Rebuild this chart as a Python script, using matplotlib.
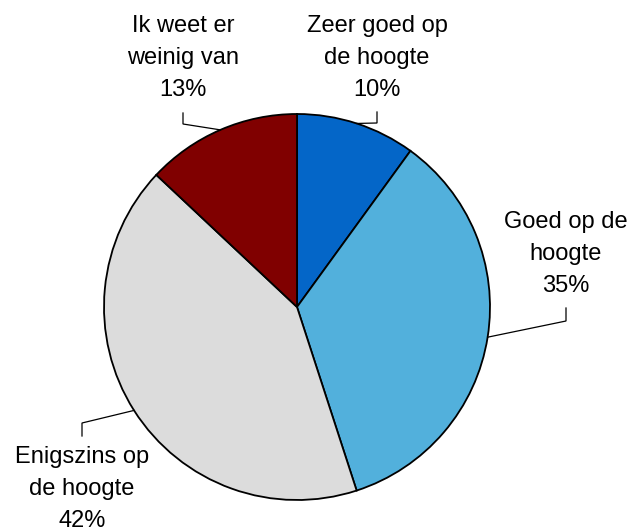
import numpy as np
import matplotlib
matplotlib.use("Agg")
import matplotlib.pyplot as plt

categories = ["Zeer goed op\nde hoogte", "Goed op de\nhoogte", "Enigszins op\nde hoogte", "Ik weet er\nweinig van"]
values = [10, 35, 42, 13]
colors = ["#0466C8", "#52B0DC", "#DCDCDC", "#800000"]

W, H = 630, 530
fig = plt.figure(figsize=(W / 100, H / 100), dpi=100)
ax = fig.add_axes([0, 0, 1, 1])
ax.set_xlim(0, W)
ax.set_ylim(0, H)
ax.set_aspect("equal")
ax.axis("off")

def py(y):
    return H - y

cx, cy, R = 297, py(307), 193
wedges, _ = ax.pie(values, colors=colors, startangle=90, counterclock=False,
                   center=(cx, cy), radius=R,
                   wedgeprops=dict(edgecolor="black", linewidth=1.3))
ax.set_xlim(0, W)
ax.set_ylim(0, H)

# label layout: elbow point, end of vertical tick, text center
layout = [
    dict(ex=377, ey=123, ty=112, tx=377, tc=58),
    dict(ex=566, ey=321, ty=308, tx=566, tc=254),
    dict(ex=82, ey=423, ty=436, tx=82, tc=489),
    dict(ex=183, ey=124, ty=113, tx=183, tc=58),
]

total = sum(values)
start = 90.0
for v, cat, lay in zip(values, categories, layout):
    span = 360.0 * v / total
    mid = np.deg2rad(start - span / 2)
    start -= span
    x0 = cx + R * np.cos(mid)
    y0 = cy + R * np.sin(mid)
    ax.plot([x0, lay["ex"], lay["ex"]], [y0, py(lay["ey"]), py(lay["ty"])],
            color="black", lw=0.9, solid_joinstyle="miter")
    ax.text(lay["tx"], py(lay["tc"]), f"{cat}\n{v}%", ha="center", va="center",
            fontsize=17, family="Liberation Sans", linespacing=1.58, color="black")

fig.savefig("out.png", dpi=100, facecolor="white")
